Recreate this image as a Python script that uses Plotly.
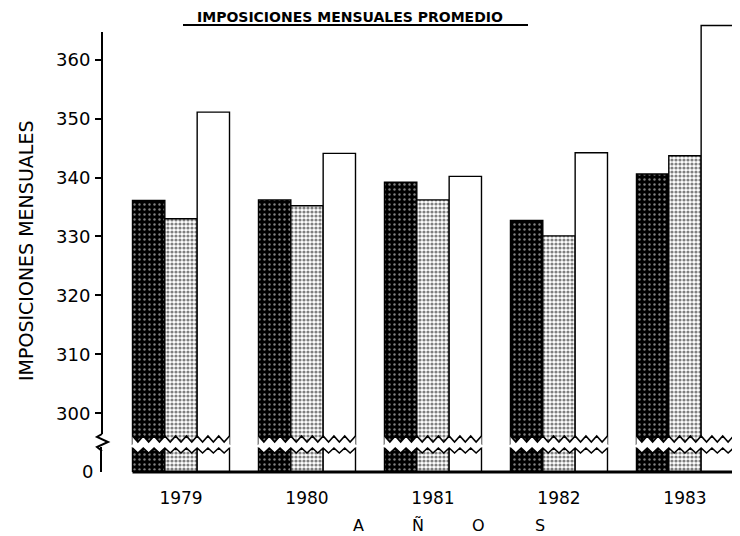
import plotly.graph_objects as go
from plotly.subplots import make_subplots

years = ["1979", "1980", "1981", "1982", "1983"]
serie_a = [336.1, 336.2, 339.2, 332.7, 340.6]   # dark bars
serie_b = [333.0, 335.2, 336.2, 330.1, 343.7]   # dotted bars
serie_c = [351.1, 344.1, 340.2, 344.2, 365.8]   # white bars
y_ticks_upper = [300, 310, 320, 330, 340, 350, 360]
x_letters = ["A", "Ñ", "O", "S"]

FONT = "DejaVu Sans"
xpos = list(range(len(years)))

# page body has an 8px margin; figure sized to fit the 740x536 window
OFF = 8
W, Hfig = 740 - OFF, 536 - OFF
L, T, BOT, RGT = 102 - OFF, 22 - OFF, 472 - OFF, 736 - OFF
PW, PH = RGT - L, BOT - T

fig = make_subplots(rows=2, cols=1, shared_xaxes=True, vertical_spacing=0.0,
                    row_heights=[0.94, 0.06])

styles = [
    dict(marker_color="black",
         marker_pattern=dict(shape=".", fgcolor="white", bgcolor="black", size=5, solidity=0.18, fillmode="overlay")),
    dict(marker_color="white",
         marker_pattern=dict(shape=".", fgcolor="black", bgcolor="white", size=4, solidity=0.5, fillmode="overlay")),
    dict(marker_color="white"),
]
for vals, st in zip([serie_a, serie_b, serie_c], styles):
    for row in (1, 2):
        fig.add_trace(go.Bar(x=xpos, y=vals, showlegend=False,
                             marker_line=dict(color="black", width=1.4), **st),
                      row=row, col=1)

fig.update_layout(
    width=W, height=Hfig,
    margin=dict(l=L, r=W - RGT, t=T, b=Hfig - BOT),
    paper_bgcolor="white", plot_bgcolor="white",
    barmode="group", bargap=0.23, bargroupgap=0,
    font=dict(family=FONT, color="black", size=15),
)

def py(pix):
    return (BOT - (pix - OFF)) / PH

def pxx(pix):
    return ((pix - OFF) - L) / PW

XR = [-0.627, 4.405]
fig.update_xaxes(range=XR, showgrid=False, zeroline=False, showline=False,
                 ticks="", showticklabels=False, row=1, col=1)
fig.update_xaxes(range=XR, showgrid=False, zeroline=False, showline=False,
                 ticks="", tickvals=xpos, ticktext=years, showticklabels=True,
                 tickfont=dict(size=17, family=FONT), ticklabelstandoff=14, row=2, col=1)

fig.update_yaxes(domain=[py(445), 1.0], range=[294.6, 366.4], tickvals=y_ticks_upper,
                 showgrid=False, zeroline=False, showline=False,
                 ticks="outside", ticklen=6, tickwidth=2, tickcolor="black",
                 tickfont=dict(size=18, family=FONT), ticklabelstandoff=1, row=1, col=1)
fig.update_yaxes(domain=[0.0, py(447)], range=[0, 10], tickvals=[0],
                 showgrid=False, zeroline=False, showline=True, linecolor="black", linewidth=2,
                 ticks="inside", ticklen=7, tickwidth=2, tickcolor="black",
                 tickfont=dict(size=18, family=FONT), ticklabelstandoff=3, row=2, col=1)

shapes = []
half = 0.385
n_teeth = 9
for i in xpos:
    x0, x1 = i - half, i + half
    step = (x1 - x0) / (n_teeth * 2)
    # upper break (bottom edge of upper bars)
    pts_up = [(x0 + k * step, py(436) if k % 2 == 0 else py(442)) for k in range(n_teeth * 2 + 1)]
    path = "M " + " L ".join(f"{x},{y}" for x, y in pts_up)
    fill = path + f" L {x1},{py(447)} L {x0},{py(447)} Z"
    shapes.append(dict(type="path", path=fill, xref="x", yref="paper",
                       fillcolor="white", line=dict(width=0), layer="above"))
    shapes.append(dict(type="path", path=path, xref="x", yref="paper",
                       line=dict(color="black", width=1.6), layer="above"))
    # lower break (top edge of lower bars)
    pts_lo = [(x0 + k * step, py(448) if k % 2 == 0 else py(453)) for k in range(n_teeth * 2 + 1)]
    path2 = "M " + " L ".join(f"{x},{y}" for x, y in pts_lo)
    fill2 = path2 + f" L {x1},{py(444)} L {x0},{py(444)} Z"
    shapes.append(dict(type="path", path=fill2, xref="x", yref="paper",
                       fillcolor="white", line=dict(width=0), layer="above"))
    shapes.append(dict(type="path", path=path2, xref="x", yref="paper",
                       line=dict(color="black", width=1.6), layer="above"))

# y axis line (upper part) and break zigzag
shapes.append(dict(type="line", xref="paper", yref="paper", x0=0, x1=0,
                   y0=py(32), y1=py(434), line=dict(color="black", width=2)))
zz = [(102, 434), (97, 437), (108, 442), (97, 447), (102, 451)]
shapes.append(dict(type="path", xref="paper", yref="paper",
                   path="M " + " L ".join(f"{pxx(x)},{py(y)}" for x, y in zz),
                   line=dict(color="black", width=2)))
# baseline
shapes.append(dict(type="line", xref="x", yref="paper", x0=-half, x1=XR[1], y0=0, y1=0,
                   line=dict(color="black", width=3), layer="above"))
# title underline
shapes.append(dict(type="line", xref="paper", yref="paper", x0=pxx(183), x1=pxx(528),
                   y0=py(25), y1=py(25), line=dict(color="black", width=2)))

annotations = [
    dict(text="<b>IMPOSICIONES MENSUALES PROMEDIO</b>", xref="paper", yref="paper",
         x=pxx(350), y=py(OFF), showarrow=False, font=dict(size=14, family=FONT),
         xanchor="center", yanchor="top", borderpad=0),
    dict(text="IMPOSICIONES MENSUALES", xref="paper", yref="paper",
         x=pxx(26), y=py(251), showarrow=False, textangle=-90,
         font=dict(size=19, family=FONT), xanchor="center", yanchor="middle"),
]
for letter, xp in zip(x_letters, [358, 418, 478, 540]):
    annotations.append(dict(text=letter, xref="paper", yref="paper", x=pxx(xp), y=py(525),
                            showarrow=False, font=dict(size=16, family=FONT),
                            xanchor="center", yanchor="middle"))

fig.update_layout(shapes=shapes, annotations=annotations)
fig.write_html("out.html")
